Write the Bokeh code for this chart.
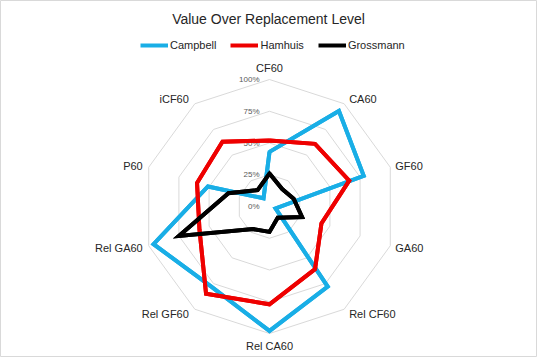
import numpy as np
from bokeh.plotting import figure
from bokeh.models import Range1d, Legend, LegendItem, ColumnDataSource
from bokeh.core.properties import value
from bokeh.embed import file_html
from bokeh.resources import INLINE

# ---- data ----
categories = ["CF60", "CA60", "GF60", "GA60", "Rel CF60", "Rel CA60",
              "Rel GF60", "Rel GA60", "P60", "iCF60"]
campbell = [43, 93, 78, 5, 78, 98, 78, 96, 51, 8]
hamhuis = [52, 61, 66, 43, 61, 77, 85, 58, 60, 63]
grossmann = [26, 17, 20, 27, 11, 20, 22, 75, 34, 16]
series_names = ["Campbell", "Hamhuis", "Grossmann"]
tick_values = [0, 25, 50, 75, 100]
tick_labels = ["0%", "25%", "50%", "75%", "100%"]

# ---- layout ----
W, H = 537, 357
CX, CY, R = 269, 206, 127          # centre and radius in pixels
px = 1.0 / R                        # one pixel in data units
FONT = "Liberation Sans"

p = figure(width=W, height=H, output_backend="svg", toolbar_location=None,
           x_range=Range1d((0 - CX) / R, (W - CX) / R),
           y_range=Range1d((CY - H) / R, CY / R),
           x_axis_type=None, y_axis_type=None, min_border=0)
p.grid.visible = False
p.background_fill_color = "#ffffff"
p.border_fill_color = "#ffffff"
p.outline_line_color = "#d9d9d9"
p.outline_line_width = 1

n = len(categories)
theta = np.arange(n) * 2 * np.pi / n
sx, sy = np.sin(theta), np.cos(theta)

# grid decagons
for t in tick_values[1:]:
    r = t / 100.0
    p.patch(list(r * sx), list(r * sy), fill_alpha=0, line_color="#d9d9d9", line_width=1)

# percentage labels
p.text(x=[-10 * px] * len(tick_values), y=[t / 100.0 for t in tick_values], text=tick_labels,
       text_align="right", text_baseline="middle", text_font=value(FONT),
       text_font_size="8px", text_color="#595959")

# category labels
lx, ly, la = [], [], []
for i in range(n):
    s, c = sx[i], sy[i]
    if abs(s) < 0.1:
        dx, align = 0, "center"
    elif s > 0:
        dx, align = 5, "left"
    else:
        dx, align = -6, "right"
    if c > 0.95:
        dy = 12
    elif c < -0.95:
        dy = -12
    elif c > 0.5:
        dy = 5
    elif c > 0:
        dy = 1
    elif c > -0.5:
        dy = -2
    else:
        dy = -5
    lx.append(s + dx * px)
    ly.append(c + dy * px)
    la.append(align)
src = ColumnDataSource(dict(x=lx, y=ly, t=categories, a=la))
p.text(x="x", y="y", text="t", text_align="a", source=src, text_baseline="middle",
       text_font=value(FONT), text_font_size="11px", text_color="#262626")

# series
colors = ["#19aee6", "#ee0000", "#000000"]
items = []
for name, vals, col in zip(series_names, [campbell, hamhuis, grossmann], colors):
    r = np.array(vals) / 100.0
    xs = list(r * sx)
    ys = list(r * sy)
    ln = p.line(xs + xs[:1], ys + ys[:1], line_color=col, line_width=4, line_join="miter")
    p.patch(xs, ys, fill_alpha=0, line_color=col, line_width=4, line_join="miter")
    items.append(LegendItem(label=name, renderers=[ln]))

legend = Legend(items=items, orientation="horizontal", location=(140, 306),
                border_line_alpha=0, background_fill_alpha=0, glyph_width=28,
                glyph_height=12, label_height=12, label_standoff=2, spacing=14,
                padding=0, margin=0, label_text_font=FONT, label_text_font_size="11px",
                label_text_color="#262626")
p.add_layout(legend)

# title
p.text(x=[(268 - CX) * px], y=[(CY - 18) * px], text=["Value Over Replacement Level"],
       text_align="center", text_baseline="middle", text_font=value(FONT),
       text_font_size="14px", text_color="#262626")

open("out.html", "w").write(file_html(p, INLINE))
